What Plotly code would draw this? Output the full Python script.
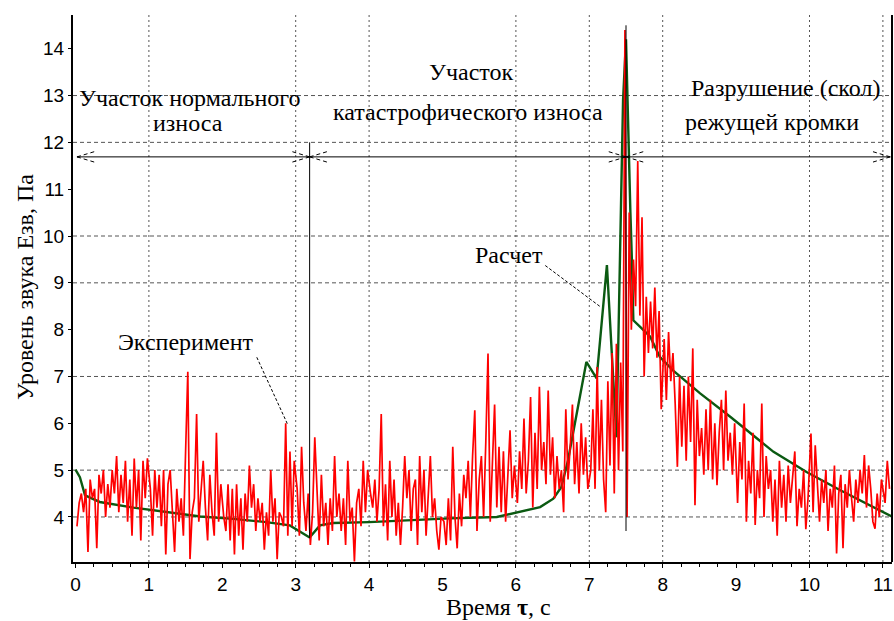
import numpy as np
import plotly.graph_objects as go

# ---------------- data ----------------
# calculated curve ("Расчет")
CALC_T = [0.0, 0.06, 0.13, 0.33, 0.79, 1.24, 1.70, 2.15, 2.60, 2.92, 3.19, 3.33, 3.51, 4.0,
          5.10, 5.74, 6.01, 6.33, 6.51, 6.62, 6.71, 6.83, 6.96, 7.10, 7.24, 7.37, 7.43,
          7.46, 7.50, 7.53, 7.56, 7.58, 7.60, 7.70, 7.83, 7.96, 8.14, 8.51, 8.92, 9.51,
          9.96, 10.42, 11.12]
CALC_E = [5.01, 4.85, 4.46, 4.32, 4.20, 4.11, 4.01, 3.96, 3.89, 3.82, 3.56, 3.82, 3.87, 3.89,
          3.97, 4.00, 4.09, 4.21, 4.39, 4.64, 5.21, 6.21, 7.31, 6.96, 9.38, 5.70, 11.0,
          12.9, 14.2, 12.0, 10.5, 9.5, 8.2, 8.05, 7.85, 7.42, 7.13, 6.64, 6.14, 5.39,
          4.96, 4.57, 4.01]

# experimental curve ("Эксперимент"), one list per second of time
EXP_0 = [3.8, 4.3, 4.5, 4.1, 4.6, 3.25, 4.8, 4.4, 4.6, 3.33, 4.9, 4.5, 5.0, 4.0, 4.7, 4.2, 5.0,
         4.5, 5.3, 4.1, 4.9, 4.3, 5.2, 3.9, 4.8, 3.6, 5.25, 4.2, 5.0, 3.5, 5.2, 4.4, 5.25]
EXP_1 = [4.6, 3.6, 5.0, 4.2, 4.9, 3.8, 5.0, 3.2, 4.7, 5.0, 4.1, 3.25, 4.6, 3.9, 4.4, 3.6, 5.4,
         7.1, 3.1, 4.1, 4.4, 6.2, 3.9, 4.6, 5.2, 4.2, 3.5, 4.9, 4.1, 3.6, 5.8, 3.9, 4.7]
EXP_2 = [4.0, 3.7, 4.7, 3.5, 4.6, 3.2, 4.7, 3.6, 4.4, 3.3, 4.5, 3.9, 5.1, 4.2, 4.7, 3.7, 4.4,
         3.9, 4.3, 3.3, 4.1, 3.6, 5.0, 3.9, 4.4, 3.1, 4.1, 4.0, 3.8, 6.0, 3.6, 5.4, 3.8, 5.2]
EXP_3 = [4.6, 3.6, 5.5, 4.3, 3.7, 4.5, 3.4, 4.1, 5.7, 4.4, 3.5, 4.9, 3.8, 4.3, 3.4, 4.4, 3.7,
         5.3, 4.0, 4.5, 3.7, 4.4, 3.4, 5.2, 3.9, 4.2, 3.05, 4.3, 4.6, 3.8, 5.2, 4.1, 5.0]
EXP_4 = [4.5, 4.2, 4.8, 3.9, 4.6, 6.2, 3.8, 4.7, 3.5, 5.2, 4.0, 4.8, 3.6, 4.3, 3.4, 4.2, 5.3,
         4.4, 5.0, 3.7, 4.6, 4.8, 3.4, 5.3, 4.1, 5.0, 3.6, 4.5, 5.3, 4.0, 4.4, 3.7, 3.3, 4.0]
EXP_5 = [3.9, 3.4, 4.4, 3.5, 5.5, 4.0, 3.33, 4.5, 3.8, 4.9, 4.4, 5.2, 4.0, 5.3, 6.28, 3.7, 4.8,
         5.3, 4.0, 5.6, 7.49, 3.9, 5.0, 6.4, 4.2, 5.5, 4.1, 5.4, 3.9, 4.8, 5.85, 4.4, 5.1]
EXP_6 = [4.3, 5.4, 4.6, 6.1, 4.5, 5.2, 6.56, 4.2, 5.8, 4.6, 6.78, 5.0, 5.6, 4.7, 6.7, 4.9, 5.7,
         4.4, 5.3, 4.6, 5.0, 4.1, 6.3, 4.8, 5.5, 6.4, 4.7, 5.6, 4.5, 6.0, 4.9, 5.7, 4.6]
EXP_7 = [5.0, 6.3, 4.6, 7.2, 5.0, 6.5, 4.8, 4.1, 6.9, 5.1, 7.5, 4.5, 7.7, 5.0, 7.3, 5.4, 14.4,
         4.0, 10.5, 8.0, 9.5, 8.5, 11.6, 8.3, 10.4, 7.0, 8.7, 7.5, 8.6, 7.6, 8.9, 7.4, 8.4, 6.3]
EXP_8 = [7.8, 6.5, 7.95, 6.9, 7.5, 6.42, 5.07, 7.0, 5.5, 6.8, 5.2, 7.0, 5.6, 7.6, 4.25, 6.5, 5.3,
         5.9, 4.9, 6.3, 5.0, 6.5, 4.8, 6.0, 4.68, 5.8, 6.5, 5.0, 6.7, 5.2, 5.8, 4.9, 6.0]
EXP_9 = [4.3, 5.6, 4.8, 6.42, 3.9, 5.2, 4.5, 5.8, 3.83, 5.0, 4.4, 6.42, 4.0, 5.3, 4.6, 5.0, 3.9,
         4.8, 3.6, 5.2, 4.2, 4.9, 3.9, 5.1, 4.3, 4.8, 5.4, 3.8, 4.6, 4.2, 5.0, 3.74, 4.4]
EXP_10 = [5.78, 4.1, 5.53, 4.6, 3.9, 4.8, 4.3, 5.0, 3.7, 4.6, 4.2, 5.1, 3.22, 4.5, 4.9, 3.33, 4.7,
          4.2, 5.0, 4.4, 3.9, 4.8, 4.3, 5.0, 4.5, 5.32, 4.2, 5.1, 4.6, 3.9, 3.75, 4.5, 4.0, 4.8]
EXP_11 = [4.3, 5.2, 4.6]
EXP_SEGMENTS = [EXP_0, EXP_1, EXP_2, EXP_3, EXP_4, EXP_5, EXP_6, EXP_7, EXP_8, EXP_9, EXP_10, EXP_11]
SEG_SPAN = [(s + 0.02, s + 0.98) for s in range(11)] + [(11.03, 11.09)]

X_TICKS = list(range(0, 12))
Y_TICKS = list(range(4, 15))
GRID_X = [1, 3, 4, 6, 7, 8, 10, 11]
GRID_Y = [4, 5, 7, 9, 10, 12, 13]

ZONE_Y = 11.69          # level of the zone-marker line
ZONE_X = [0.02, 3.19, 7.50, 11.10]
VLINES = [(3.19, 12.0, 3.55), (7.50, 14.5, 3.7)]

LABELS = [
    ("Участок нормального", 1.56, 12.95),
    ("износа", 1.53, 12.41),
    ("Участок", 5.39, 13.50),
    ("катастрофического износа", 5.35, 12.64),
    ("Разрушение (скол)", 9.67, 13.16),
    ("режущей кромки", 9.49, 12.43),
    ("Эксперимент", 1.51, 7.73),
    ("Расчет", 5.91, 9.59),
]
LEADERS = [((2.47, 7.41), (2.895, 5.96)), ((6.40, 9.37), (7.15, 8.49))]

# ---------------- build ----------------
exp_t, exp_e = [], []
for (a, b), seg in zip(SEG_SPAN, EXP_SEGMENTS):
    exp_t.extend(np.linspace(a, b, len(seg)).tolist())
    exp_e.extend(seg)

XR = [-0.034, 11.124]
YR = [3.038, 14.72]
L, R, T, B = 73, 2, 15, 59
W, H = 894, 621
pw, ph = W - L - R, H - T - B
ux = pw / (XR[1] - XR[0])
uy = ph / (YR[1] - YR[0])

serif = "Liberation Serif"
sans = "Liberation Sans"

fig = go.Figure()
fig.add_trace(go.Scatter(x=CALC_T, y=CALC_E, mode="lines",
                         line=dict(color="#0b5a12", width=2.4), hoverinfo="skip", showlegend=False))
fig.add_trace(go.Scatter(x=exp_t, y=exp_e, mode="lines",
                         line=dict(color="#ff0000", width=1.7), hoverinfo="skip", showlegend=False))

shapes = []
for gx in GRID_X:
    shapes.append(dict(type="line", xref="x", yref="paper", x0=gx, x1=gx, y0=0, y1=1,
                       line=dict(color="#555555", width=1, dash="2px,3px"), layer="below"))
for gy in GRID_Y:
    shapes.append(dict(type="line", xref="paper", yref="y", x0=0, x1=1, y0=gy, y1=gy,
                       line=dict(color="#555555", width=1, dash="4px,3px"), layer="below"))
# right frame
shapes.append(dict(type="line", xref="paper", yref="paper", x0=1, x1=1, y0=0, y1=1,
                   line=dict(color="black", width=2)))
# zone line
shapes.append(dict(type="line", xref="x", yref="y", x0=ZONE_X[0], x1=ZONE_X[-1], y0=ZONE_Y, y1=ZONE_Y,
                   line=dict(color="black", width=1)))
for vx, vy0, vy1 in VLINES:
    shapes.append(dict(type="line", xref="x", yref="y", x0=vx, x1=vx, y0=vy0, y1=vy1,
                       line=dict(color="black", width=1)))
# dashed chevrons at zone borders
arm_x, arm_y = 20 / ux, 6 / uy
for i, zx in enumerate(ZONE_X):
    dirs = []
    if i > 0:
        dirs.append(-1)
    if i < len(ZONE_X) - 1:
        dirs.append(1)
    for d in dirs:
        for s in (1, -1):
            shapes.append(dict(type="line", xref="x", yref="y", x0=zx, y0=ZONE_Y,
                               x1=zx + d * arm_x, y1=ZONE_Y + s * arm_y,
                               line=dict(color="black", width=1, dash="4px,3px")))
for (x0, y0), (x1, y1) in LEADERS:
    shapes.append(dict(type="line", xref="x", yref="y", x0=x0, y0=y0, x1=x1, y1=y1,
                       line=dict(color="black", width=1, dash="3px,2px")))

annotations = []
for txt, ax, ay in LABELS:
    annotations.append(dict(text=txt, x=ax, y=ay, xref="x", yref="y", showarrow=False,
                            font=dict(family=serif, size=24, color="black"),
                            xanchor="center", yanchor="middle"))
annotations.append(dict(text="Уровень звука Eзв, Па", x=(25 - L) / pw, y=(H - B - 287) / ph,
                        xref="paper", yref="paper", showarrow=False, textangle=-90,
                        font=dict(family=serif, size=24, color="black"),
                        xanchor="center", yanchor="middle"))
annotations.append(dict(text="Время <b>τ</b>, с", x=(498 - L) / pw, y=(H - B - 607) / ph,
                        xref="paper", yref="paper", showarrow=False,
                        font=dict(family=serif, size=24, color="black"),
                        xanchor="center", yanchor="middle"))

fig.update_layout(
    width=W, height=H, margin=dict(l=L, r=R, t=T, b=B),
    paper_bgcolor="white", plot_bgcolor="white",
    shapes=shapes, annotations=annotations,
    xaxis=dict(range=XR, tickvals=X_TICKS, ticktext=[str(v) for v in X_TICKS],
               showgrid=False, zeroline=False, showline=True, linecolor="black", linewidth=2,
               ticks="outside", ticklen=4, tickcolor="black",
               minor=dict(dtick=0.25, ticks="outside", ticklen=3, tickcolor="black", showgrid=False),
               tickfont=dict(family=sans, size=19, color="black")),
    yaxis=dict(range=YR, tickvals=Y_TICKS, ticktext=[str(v) for v in Y_TICKS],
               showgrid=False, zeroline=False, showline=True, linecolor="black", linewidth=2,
               ticks="outside", ticklen=3, tickcolor="black",
               tickfont=dict(family=sans, size=19, color="black")),
)

fig.write_html("out.html")
